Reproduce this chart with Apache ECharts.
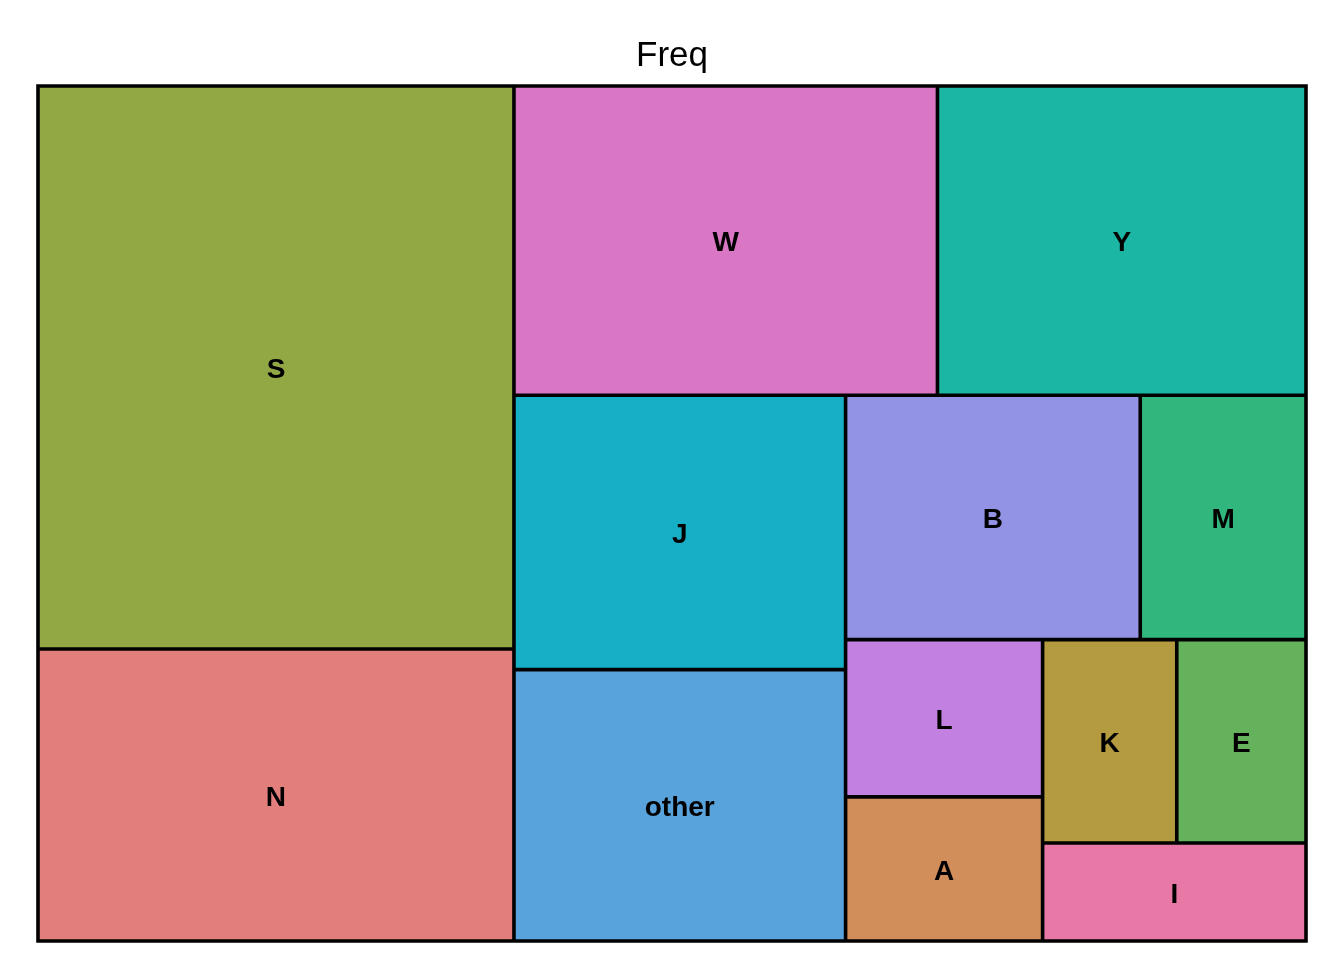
<!DOCTYPE html>
<html><head><meta charset="utf-8">
<script src="https://cdn.jsdelivr.net/npm/echarts@6/dist/echarts.min.js"></script>
<style>html,body{margin:0;padding:0;background:#fff}#c{width:1344px;height:960px}</style>
</head><body><div id="c"></div>
<script>
const categories = ['S','N','W','Y','J','other','B','M','L','A','K','E','I'];
const freqValues = [268, 139, 131, 114, 91, 90, 72, 40.5, 31, 28.4, 27.3, 26.3, 25.8];
const colors = ['#91A844','#E27F7C','#DA77C5','#1BB7A4','#17AFC6','#58A3DC','#9393E5','#31B67E','#C281E0','#D18D5A','#B49B40','#64B25C','#E878A6'];
const titleText = 'Freq';
// pivot-style grouping of category indices (reproduces the reference layout)
const groups = [[0,1],[[2,3],[[4,5],[[6,7],[[8,9],[[10,11],12]]]]]];

function leaf(i) {
  return {name: categories[i], value: freqValues[i],
    itemStyle: {color: colors[i], borderColor: '#000', borderWidth: 1.8, gapWidth: 0}};
}
function build(g) {
  if (typeof g === 'number') return leaf(g);
  const children = g.map(build);
  return {name: '', value: children.reduce((s, c) => s + c.value, 0), children,
    itemStyle: {borderWidth: 0, gapWidth: 0, borderColor: '#000'}};
}
const treeData = groups.map(build);

const chart = echarts.init(document.getElementById('c'));
chart.setOption({
  animation: false,
  title: {text: titleText, left: 'center', top: 34, textStyle: {fontFamily: 'Liberation Sans', fontSize: 35, fontWeight: 'normal', color: '#000'}},
  series: [{
    type: 'treemap',
    left: 36.2, top: 84.2, width: 1271.6, height: 858.6,
    roam: false, nodeClick: false,
    sort: false,
    squareRatio: 1,
    breadcrumb: {show: false},
    label: {show: true, position: 'inside', align: 'center', verticalAlign: 'middle', offset: [0, 3],
      formatter: '{b}', fontFamily: 'Liberation Sans', fontSize: 28, fontWeight: 'bold', color: '#000'},
    upperLabel: {show: false},
    itemStyle: {borderColor: '#000', borderWidth: 0, gapWidth: 0},
    levels: [{itemStyle: {borderColor: '#000', borderWidth: 1.8, gapWidth: 0}}],
    data: treeData
  }]
});
</script></body></html>
